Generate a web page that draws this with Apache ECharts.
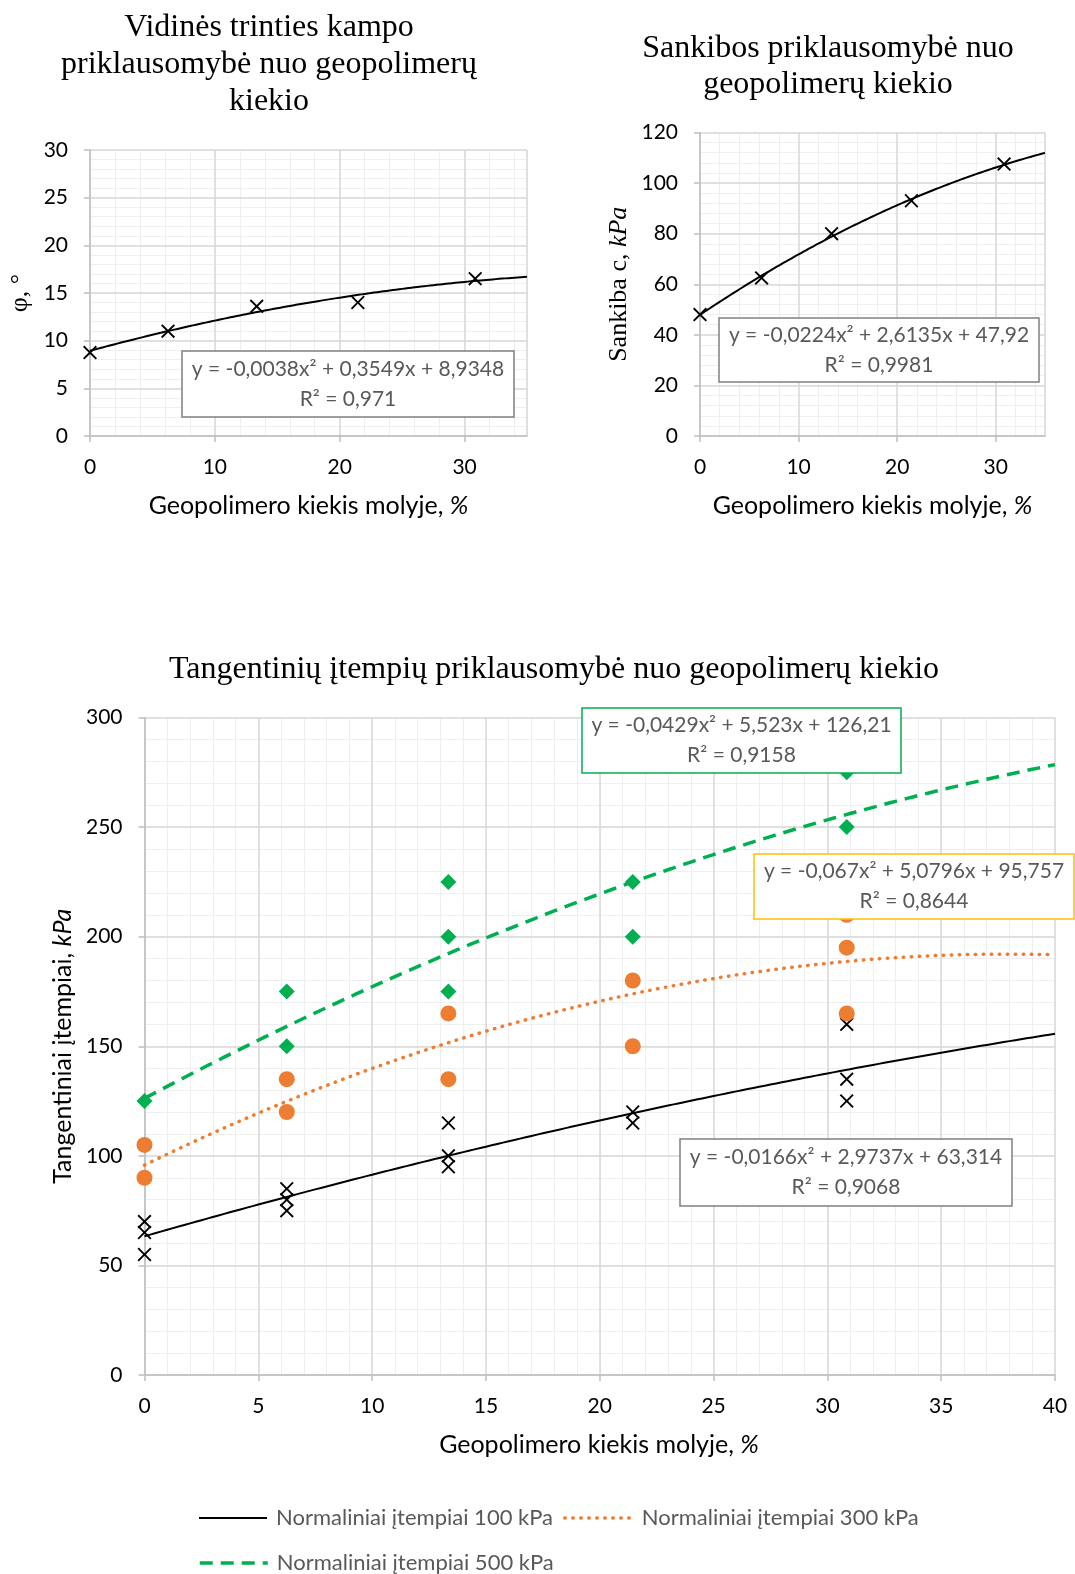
<!DOCTYPE html>
<html><head><meta charset="utf-8">
<script src="https://cdn.jsdelivr.net/npm/echarts@6/dist/echarts.min.js"></script>
<style>html,body{margin:0;padding:0;background:#fff}#c{width:1075px;height:1574px}</style>
</head><body><div id="c"></div>
<script>
// ---- data ----
const xLevels = [0, 6.25, 13.35, 21.45, 30.85];
const phiValues = [8.75, 11.0, 13.6, 14.0, 16.5];
const cohesionValues = [48, 62.5, 80, 93, 107.5];
const tau100 = [[70, 65, 55], [85, 80, 75], [115, 100, 95], [120, 115], [160, 135, 125]];
const tau300 = [[105, 90], [135, 120], [165, 135], [180, 150], [210, 195, 165]];
const tau500 = [[125], [175, 150], [225, 200, 175], [225, 200], [275, 250]];
// trendline coefficients shown on the chart [a, b, c] for y = a x^2 + b x + c
const phiTrend = [-0.0038, 0.3549, 8.9348];
const cohesionTrend = [-0.0224, 2.6135, 47.92];
const trend100 = [-0.0166, 2.9737, 63.314];
const trend300 = [-0.067, 5.0796, 95.757];
const trend500 = [-0.0429, 5.523, 126.21];
const phiEq = ['y = -0,0038x² + 0,3549x + 8,9348', 'R² = 0,971'];
const cohesionEq = ['y = -0,0224x² + 2,6135x + 47,92', 'R² = 0,9981'];
const eq100 = ['y = -0,0166x² + 2,9737x + 63,314', 'R² = 0,9068'];
const eq300 = ['y = -0,067x² + 5,0796x + 95,757', 'R² = 0,8644'];
const eq500 = ['y = -0,0429x² + 5,523x + 126,21', 'R² = 0,9158'];
const seriesNames = ['Normaliniai įtempiai 100 kPa', 'Normaliniai įtempiai 300 kPa', 'Normaliniai įtempiai 500 kPa'];
const titles = ['Vidinės trinties kampo\npriklausomybė nuo geopolimerų\nkiekio', 'Sankibos priklausomybė nuo\ngeopolimerų kiekio', 'Tangentinių įtempių priklausomybė nuo geopolimerų kiekio'];
const xName = 'Geopolimero kiekis molyje, {i|%}';

// ---- helpers ----
const SANS = 'Lato, "Open Sans", sans-serif';
const SERIF = '"Liberation Serif", "DejaVu Serif", serif';
function curve(c, x0, x1) {
  const pts = [];
  for (let x = x0; x <= x1 + 1e-9; x += 0.25) pts.push([x, c[0] * x * x + c[1] * x + c[2]]);
  return pts;
}
function pairs(xs, ys) { return xs.map((x, i) => [x, ys[i]]); }
function groups(xs, g) { const out = []; xs.forEach((x, i) => g[i].forEach(v => out.push([x, v]))); return out; }
const a = 0.95;
const CROSS = `path://M${a},0 L5,${5 - a} L${10 - a},0 L10,${a} L${5 + a},5 L10,${10 - a} L${10 - a},10 L5,${5 + a} L${a},10 L0,${10 - a} L${5 - a},5 L0,${a} Z`;

function minorAxis(grid, min, max, interval, pos) {
  return { type: 'value', gridIndex: grid, position: pos, min, max, interval, z: 0, silent: true,
    axisLine: { show: false }, axisTick: { show: false }, axisLabel: { show: false },
    splitLine: { show: true, lineStyle: { color: '#efefef', width: 1 } } };
}
function mainX(grid, min, max, interval, name, gap, hideMax) {
  return { type: 'value', gridIndex: grid, position: 'bottom', min, max, interval, z: 1,
    axisLine: { show: true, lineStyle: { color: '#bfbfbf', width: 1.5 } },
    axisTick: { show: true, length: 6, lineStyle: { color: '#bfbfbf', width: 1.5 } },
    axisLabel: { color: '#000', fontFamily: SANS, fontSize: 21, margin: 21, showMaxLabel: !hideMax },
    splitLine: { show: true, lineStyle: { color: '#d9d9d9', width: 1.5 } },
    name, nameLocation: 'middle', nameGap: gap,
    nameTextStyle: { color: '#000', fontFamily: SANS, fontSize: 25,
      rich: { i: { fontStyle: 'italic', fontFamily: SANS, fontSize: 25, color: '#000' } } } };
}
function mainY(grid, min, max, interval, name, gap, nameFont, nameSize) {
  return { type: 'value', gridIndex: grid, position: 'left', min, max, interval, z: 1,
    axisLine: { show: true, lineStyle: { color: '#bfbfbf', width: 1.5 } },
    axisTick: { show: true, length: 6, lineStyle: { color: '#bfbfbf', width: 1.5 } },
    axisLabel: { color: '#000', fontFamily: SANS, fontSize: 21, margin: 22 },
    splitLine: { show: true, lineStyle: { color: '#d9d9d9', width: 1.5 } },
    name, nameLocation: 'middle', nameGap: gap,
    nameTextStyle: { color: '#000', fontFamily: nameFont, fontSize: nameSize,
      rich: { i: { fontStyle: 'italic', fontFamily: nameFont, fontSize: nameSize, color: '#000' } } } };
}
function eqBox(x, y, w, h, color, lines) {
  return [
    { type: 'rect', z: 100, shape: { x, y, width: w, height: h }, style: { fill: '#fff', stroke: color, lineWidth: 1.5 } },
    { type: 'text', z: 101, x: x + w / 2, y: y + h / 2,
      style: { text: lines.join('\n'), fill: '#595959', font: '21px ' + SANS, textAlign: 'center', textVerticalAlign: 'middle', lineHeight: 30 } }
  ];
}
function legendItem(left, top, name, width) {
  return { left, top, data: [name], itemWidth: 68, itemHeight: 14, selectedMode: false,
    itemStyle: { opacity: 0 }, lineStyle: { width },
    textStyle: { color: '#595959', fontFamily: SANS, fontSize: 22, padding: [0, 0, 0, 4] } };
}

const W = 1075, H = 1574;
const chart = echarts.init(document.getElementById('c'), null, { renderer: 'canvas' });
chart.setOption({
  animation: false,
  backgroundColor: '#fff',
  grid: [
    { left: 90, top: 150, right: W - 527, bottom: H - 436 },
    { left: 700, top: 132.5, right: W - 1045, bottom: H - 436 },
    { left: 144.5, top: 717.5, right: W - 1055, bottom: H - 1375 }
  ],
  xAxis: [
    minorAxis(0, 0, 35, 2, 'top'), mainX(0, 0, 35, 10, xName, 57, true),
    minorAxis(1, 0, 35, 2, 'top'), mainX(1, 0, 35, 10, xName, 57, true),
    minorAxis(2, 0, 40, 1, 'top'), mainX(2, 0, 40, 5, '', 57, false)
  ],
  yAxis: [
    minorAxis(0, 0, 30, 1, 'right'), mainY(0, 0, 30, 5, 'φ, °', 57, SERIF, 26),
    minorAxis(1, 0, 120, 4, 'right'), mainY(1, 0, 120, 20, 'Sankiba c, {i|kPa}', 68, SERIF, 26),
    minorAxis(2, 0, 300, 10, 'right'), mainY(2, 0, 300, 50, 'Tangentiniai įtempiai, {i|kPa}', 69, SANS, 25)
  ],
  legend: [
    legendItem(193, 1502, seriesNames[0], 2),
    legendItem(558, 1502, seriesNames[1], 3.5),
    legendItem(193, 1547, seriesNames[2], 3.5)
  ],
  series: [
    { type: 'line', name: 'phiTrend', xAxisIndex: 1, yAxisIndex: 1, data: curve(phiTrend, 0, 35), symbol: 'none', silent: true, z: 2,
      lineStyle: { color: '#000', width: 2 } },
    { type: 'scatter', name: 'phi', xAxisIndex: 1, yAxisIndex: 1, data: pairs(xLevels, phiValues), symbol: CROSS, symbolSize: 14, z: 3,
      itemStyle: { color: '#000', opacity: 1 } },
    { type: 'line', name: 'cohTrend', xAxisIndex: 3, yAxisIndex: 3, data: curve(cohesionTrend, 0, 35), symbol: 'none', silent: true, z: 2,
      lineStyle: { color: '#000', width: 2 } },
    { type: 'scatter', name: 'coh', xAxisIndex: 3, yAxisIndex: 3, data: pairs(xLevels, cohesionValues), symbol: CROSS, symbolSize: 14, z: 3,
      itemStyle: { color: '#000', opacity: 1 } },
    { type: 'scatter', name: 'p100', xAxisIndex: 5, yAxisIndex: 5, data: groups(xLevels, tau100), symbol: CROSS, symbolSize: 14, z: 3,
      itemStyle: { color: '#000', opacity: 1 } },
    { type: 'scatter', name: 'p300', xAxisIndex: 5, yAxisIndex: 5, data: groups(xLevels, tau300), symbol: 'circle', symbolSize: 16, z: 3,
      itemStyle: { color: '#ED7D31', opacity: 1 } },
    { type: 'scatter', name: 'p500', xAxisIndex: 5, yAxisIndex: 5, data: groups(xLevels, tau500), symbol: 'diamond', symbolSize: 16, z: 3,
      itemStyle: { color: '#00B050', opacity: 1 } },
    { type: 'line', name: seriesNames[0], xAxisIndex: 5, yAxisIndex: 5, data: curve(trend100, 0, 40), symbol: 'none', silent: true, z: 4,
      itemStyle: { color: '#000' }, lineStyle: { color: '#000', width: 2 } },
    { type: 'line', name: seriesNames[1], xAxisIndex: 5, yAxisIndex: 5, data: curve(trend300, 0, 40), symbol: 'none', silent: true, z: 4,
      itemStyle: { color: '#ED7D31' }, lineStyle: { color: '#ED7D31', width: 3.5, type: [0.5, 7.5], cap: 'round' } },
    { type: 'line', name: seriesNames[2], xAxisIndex: 5, yAxisIndex: 5, data: curve(trend500, 0, 40), symbol: 'none', silent: true, z: 4,
      itemStyle: { color: '#00B050' }, lineStyle: { color: '#00B050', width: 3.5, type: [13, 8] } }
  ],
  graphic: [
    { type: 'text', z: 100, x: 269, y: 65, style: { text: titles[0], fill: '#000', font: '32px ' + SERIF, textAlign: 'center', textVerticalAlign: 'middle', lineHeight: 37 } },
    { type: 'text', z: 100, x: 828, y: 66.5, style: { text: titles[1], fill: '#000', font: '32px ' + SERIF, textAlign: 'center', textVerticalAlign: 'middle', lineHeight: 36 } },
    { type: 'text', z: 100, x: 554, y: 670, style: { text: titles[2], fill: '#000', font: '32px ' + SERIF, textAlign: 'center', textVerticalAlign: 'middle' } },
    { type: 'text', z: 100, x: 599, y: 1445, style: { text: xName, fill: '#000', font: '25px ' + SANS, textAlign: 'center', textVerticalAlign: 'middle',
      rich: { i: { fontStyle: 'italic', fontFamily: SANS, fontSize: 25, fill: '#000' } } } },
    ...eqBox(182, 351, 332, 66, '#808080', phiEq),
    ...eqBox(719, 318, 320, 64, '#808080', cohesionEq),
    ...eqBox(582, 708, 319, 65, '#00B050', eq500),
    ...eqBox(754, 854, 320, 65, '#FFC000', eq300),
    ...eqBox(680, 1139, 332, 67, '#808080', eq100)
  ]
});
</script></body></html>
